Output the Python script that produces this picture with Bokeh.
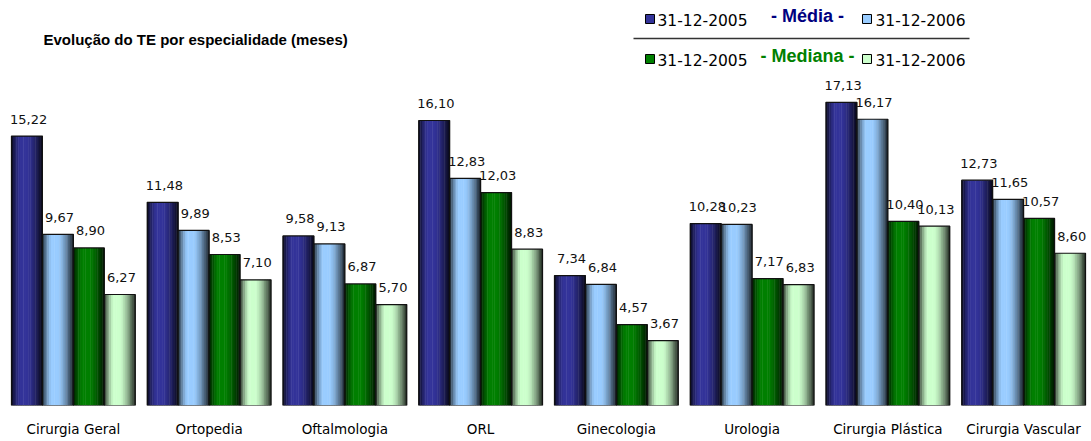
import numpy as np
from bokeh.plotting import figure
from bokeh.models import Range1d, ColumnDataSource, FixedTicker
from bokeh.transform import dodge
from bokeh.core.properties import value
from bokeh.embed import file_html
from bokeh.resources import INLINE

# ---------------- data ----------------
categories = ["Cirurgia Geral", "Ortopedia", "Oftalmologia", "ORL",
              "Ginecologia", "Urologia", "Cirurgia Plástica", "Cirurgia Vascular"]
media_2005 = [15.22, 11.48, 9.58, 16.10, 7.34, 10.28, 17.13, 12.73]
media_2006 = [9.67, 9.89, 9.13, 12.83, 6.84, 10.23, 16.17, 11.65]
mediana_2005 = [8.90, 8.53, 6.87, 12.03, 4.57, 7.17, 10.40, 10.57]
mediana_2006 = [6.27, 7.10, 5.70, 8.83, 3.67, 6.83, 10.13, 8.60]
series_dates = ["31-12-2005", "31-12-2006"]
group_labels = ["- Média -", "- Mediana -"]
title_text = "Evolução do TE por especialidade (meses)"

colors = ["#333399", "#99CCFF", "#007F00", "#CCFFCC"]
keys = ["m05", "m06", "md05", "md06"]
series = [media_2005, media_2006, mediana_2005, mediana_2006]

def fmt(v):
    return f"{v:.2f}".replace(".", ",")

pos = [i + 0.5 for i in range(len(categories))]
data = dict(pos=pos, cat=categories)
for k, s in zip(keys, series):
    data[k] = s
    data[k + "_lbl"] = [fmt(v) for v in s]
source = ColumnDataSource(data)

W, H = 1091, 441
p = figure(x_range=Range1d(0, len(categories)),
           y_range=Range1d(0, 22.88),
           width=W, height=H, output_backend="svg", toolbar_location=None,
           min_border_left=5, min_border_right=0, min_border_top=0,
           min_border_bottom=36, y_axis_location=None,
           outline_line_color=None, background_fill_color="white",
           border_fill_color="white")
p.grid.visible = False
p.extra_x_ranges = {"px": Range1d(5, 1091)}
p.extra_y_ranges = {"py": Range1d(405, 0)}

ax = p.xaxis[0]
ax.ticker = FixedTicker(ticks=pos)
ax.major_label_overrides = {pp: c for pp, c in zip(pos, categories)}
ax.axis_line_color = None
ax.major_tick_line_color = None
ax.minor_tick_line_color = None
ax.major_tick_out = 0
ax.major_tick_in = 0
ax.major_label_standoff = 15
ax.major_label_text_font = "DejaVu Sans"
ax.major_label_text_font_size = "13.5px"
ax.major_label_text_color = "#000000"

bw = 0.228
offsets = [-1.5 * bw, -0.5 * bw, 0.5 * bw, 1.5 * bw]
N = 18

def shade(t):
    if t < 0.3:
        return 0.8 * (1 - t / 0.3) ** 1.4
    if t < 0.5:
        return 0.0
    return 0.85 * ((t - 0.5) / 0.5) ** 1.5

def hex_rgb(h):
    h = h.lstrip("#")
    return np.array([int(h[i:i + 2], 16) for i in (0, 2, 4)], dtype=float)

for si, (k, col) in enumerate(zip(keys, colors)):
    base = hex_rgb(col)
    for j in range(N):
        t = (j + 0.5) / N
        c = base * (1 - shade(t))
        cc = "#%02x%02x%02x" % tuple(int(round(v)) for v in c)
        p.vbar(x=dodge("pos", offsets[si] + (t - 0.5) * bw),
               top=k, bottom=0, width=bw / N * 1.25, source=source,
               fill_color=cc, line_color=None)
    p.vbar(x=dodge("pos", offsets[si]), top=k, bottom=0,
           width=bw, source=source, fill_alpha=0, line_color="#111111",
           line_width=1.2)
    p.text(x=dodge("pos", offsets[si] + 0.012), y=k, text=k + "_lbl",
           source=source, text_align="center", text_baseline="alphabetic",
           y_offset=-17, text_font=value("DejaVu Sans"), text_font_size="13px",
           text_color="#111111")

# ---------------- title ----------------
p.text(x=[43], y=[39], text=[title_text], x_range_name="px", y_range_name="py",
       text_font=value("Liberation Sans"), text_font_style="bold",
       text_font_size="15px", text_color="#000000", text_baseline="alphabetic")

# ---------------- custom legend ----------------
row_base = [19, 59]
sq_top = [14, 54]
mid_base = [15, 55]
mid_colors = ["#000080", "#008000"]
for r in range(2):
    for c in range(2):
        sx = [645, 862][c]
        tx = [657, 875][c]
        p.quad(left=[sx], right=[sx + 9], top=[sq_top[r]], bottom=[sq_top[r] + 9],
               x_range_name="px", y_range_name="py",
               fill_color=colors[2 * r + c], line_color="#000000", line_width=1)
        p.text(x=[tx], y=[row_base[r]], text=[series_dates[c]],
               x_range_name="px", y_range_name="py",
               text_font=value("DejaVu Sans"), text_font_size="15.5px",
               text_color="#000000", text_baseline="alphabetic")
    p.text(x=[807], y=[mid_base[r]], text=[group_labels[r]],
           x_range_name="px", y_range_name="py", text_align="center",
           text_font=value("Liberation Sans"), text_font_style="bold",
           text_font_size="18px", text_color=mid_colors[r],
           text_baseline="alphabetic")
p.segment(x0=[633], y0=[38], x1=[969], y1=[38], x_range_name="px",
          y_range_name="py", line_color="#333333", line_width=1.5)

open("out.html", "w").write(file_html(p, INLINE))
